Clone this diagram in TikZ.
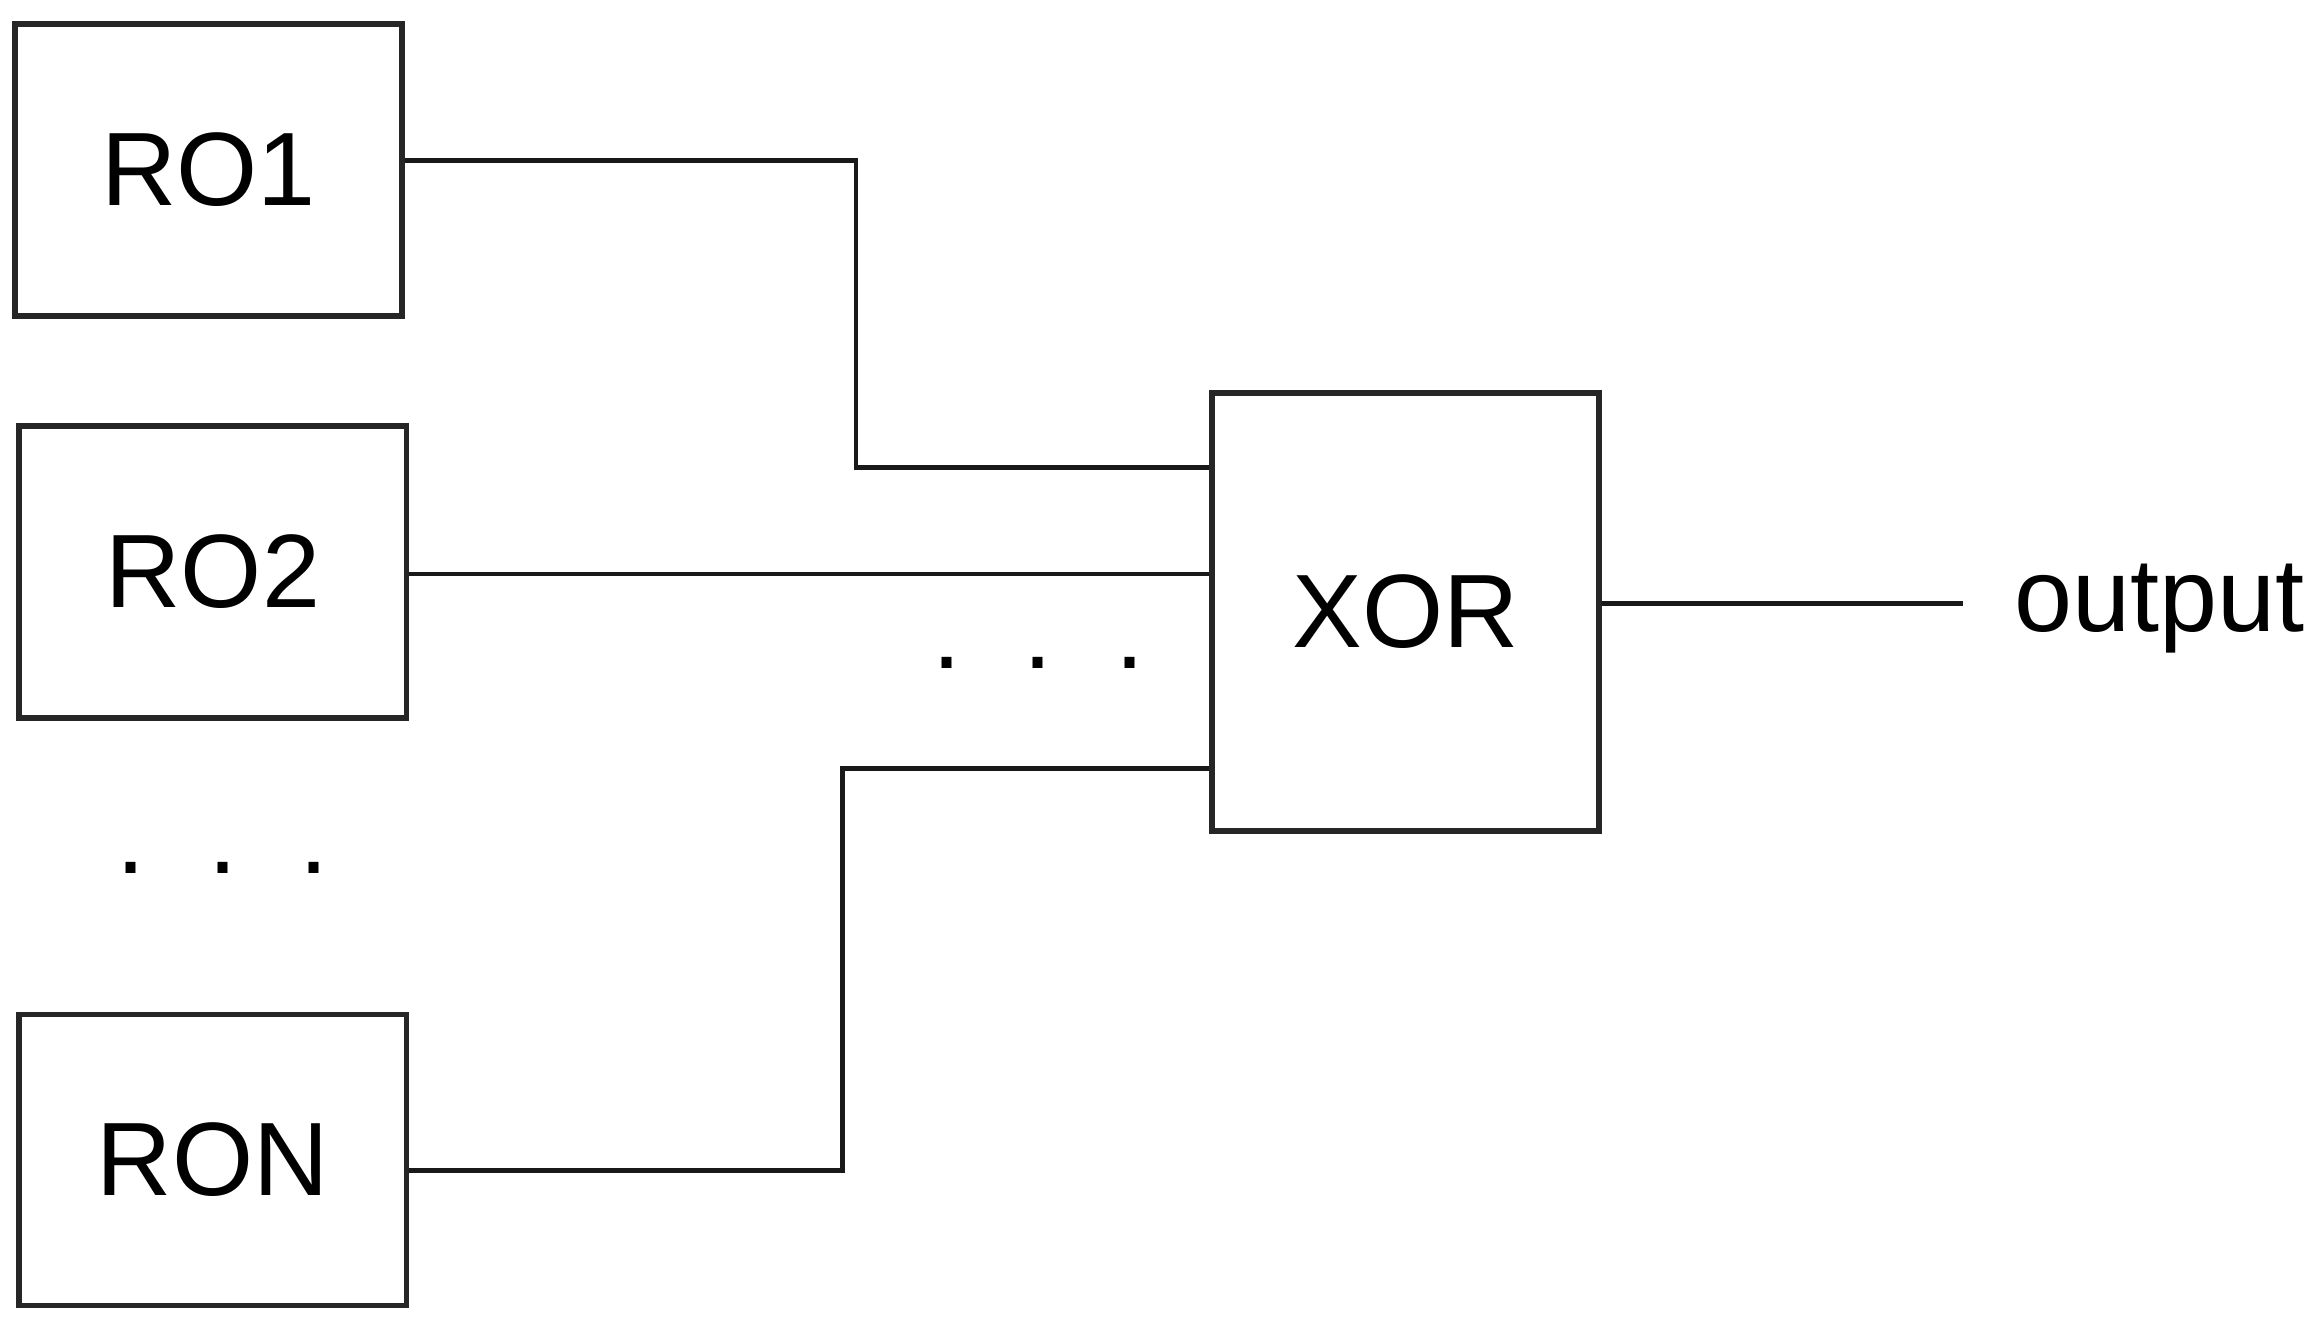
\documentclass[tikz,border=0pt]{standalone}
\usepackage{fontspec}
\setmainfont{Liberation Sans}
\begin{document}
\begin{tikzpicture}[x=0.01cm,y=-0.01cm,
  blk/.style={draw=black!85,line width=1.1pt,minimum width=2.61cm,inner sep=0pt,font=\fontsize{20}{24}\selectfont},
  wire/.style={black!90,line width=0.9pt},
  lbl/.style={font=\fontsize{20}{24}\selectfont,inner sep=0pt}]
\useasboundingbox (0,0) rectangle (1564,891);
\node[blk,minimum height=1.97cm] (ro1) at (140.5,114.5) {RO1};
\node[blk,minimum height=1.97cm] (ro2) at (143.5,385.5) {RO2};
\node[blk,minimum height=1.96cm] (ron) at (143.5,782) {RON};
\node[blk,minimum height=2.95cm] (xor) at (947.5,412.5) {XOR};
\node[lbl,anchor=west] (out) at (1357,410) {output};
\coordinate (oe) at (1323,407);
\node[lbl] (d1) at (700,447) {.\hspace{0.6em}.\hspace{0.6em}.};
\node[lbl] (d2) at (150,585) {.\hspace{0.6em}.\hspace{0.6em}.};
\draw[wire] (ro1.east |- 0,108) -- (577,108) -- (577,315) -- (xor.west |- 0,315);
\draw[wire] (ro2.east |- 0,387) -- (xor.west |- 0,387);
\draw[wire] (ron.east |- 0,789) -- (568,789) -- (568,518) -- (xor.west |- 0,518);
\draw[wire] (xor.east |- 0,407) -- (oe);
\end{tikzpicture}
\end{document}
